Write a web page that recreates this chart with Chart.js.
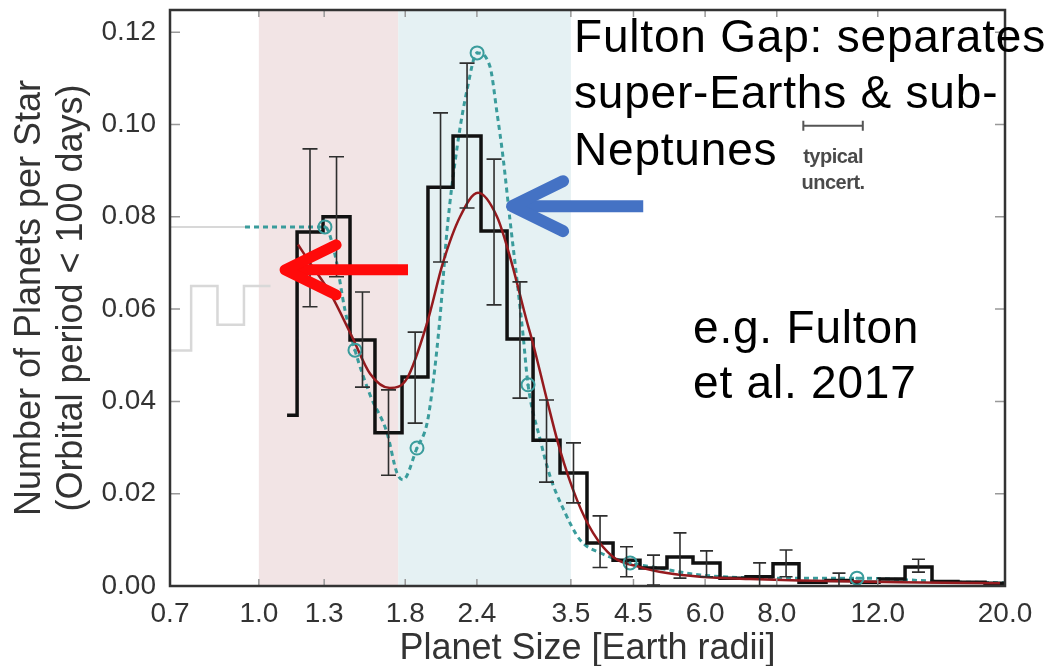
<!DOCTYPE html>
<html>
<head>
<meta charset="utf-8">
<script src="https://cdn.jsdelivr.net/npm/chart.js@4.4.1/dist/chart.umd.min.js"></script>
<style>
  html, body { margin: 0; padding: 0; background: #fff; }
  #wrap { width: 1051px; height: 666px; }
</style>
</head>
<body>
<div id="wrap"><canvas id="fulton" width="1051" height="666"></canvas></div>
<script>
// axis ticks
const xTicks = [0.7, 1.0, 1.3, 1.8, 2.4, 3.5, 4.5, 6.0, 8.0, 12.0, 20.0];
const yTicks = [0, 0.02, 0.04, 0.06, 0.08, 0.10, 0.12];

// shaded bands (planet radius)
const superEarthBand = [1.0, 1.75];
const subNeptuneBand = [1.75, 3.5];

// black histogram: bin edges and occurrence per bin
const binEdges = [1.12, 1.166, 1.294, 1.442, 1.594, 1.777, 1.972, 2.181, 2.44, 2.709,
  3.007, 3.351, 3.734, 4.146, 4.62, 5.148, 5.715, 6.37, 7.071, 7.88,
  8.747, 9.749, 10.82, 12.06, 13.39, 14.92, 16.56, 18.46, 20];
const binValues = [0.037, 0.0767, 0.080, 0.0533, 0.0332, 0.0453, 0.0864, 0.0975, 0.0769, 0.0535,
  0.0316, 0.0245, 0.0093, 0.0056, 0.0039, 0.0063, 0.005, 0.0017, 0.002, 0.0048,
  0.0008, 0.0012, 0.0008, 0.0015, 0.0041, 0.001, 0.0008, 0.0006];

// grey (incomplete) part of the histogram
const grayEdges = [0.7, 0.762, 0.847, 0.942, 1.048];
const grayValues = [0.051, 0.065, 0.0566, 0.065];
const grayModelX = [0.7, 0.946];
const grayModelY = [0.0778, 0.0778];

// error bars
const errX  = [1.228, 1.366, 1.516, 1.683, 1.873, 2.074, 2.307, 2.571, 2.853, 3.174, 3.537, 3.935, 4.376, 4.877, 5.424, 6.034, 7.467, 8.304, 10.27, 14.13];
const errLo = [0.0605, 0.067, 0.0431, 0.024, 0.0353, 0.0702, 0.0819, 0.0609, 0.0407, 0.0225, 0.018, 0.004, 0.002, 0.0002, 0.0017, 0.002, 0.0, 0.002, 0.0, 0.003];
const errHi = [0.0947, 0.093, 0.0637, 0.0425, 0.055, 0.1025, 0.1133, 0.0925, 0.0659, 0.0403, 0.031, 0.0152, 0.0085, 0.0067, 0.0115, 0.0076, 0.005, 0.0078, 0.0028, 0.0058];

// red smooth curve
const redX = [1.17, 1.228, 1.331, 1.454, 1.563, 1.693, 1.813, 1.965, 2.094, 2.243, 2.411, 2.602, 2.741, 2.935, 3.007, 3.18, 3.35, 3.588, 3.826, 4.146, 4.62, 5.148, 5.878, 7.18, 8.78, 13.1, 19.6];
const redY = [0.074, 0.070, 0.0635, 0.054, 0.046, 0.0429, 0.045, 0.057, 0.070, 0.080, 0.0852, 0.080, 0.0713, 0.0572, 0.0525, 0.0403, 0.0295, 0.0186, 0.0115, 0.0063, 0.0041, 0.0028, 0.002, 0.0015, 0.0012, 0.0008, 0.0006];

// teal dashed model curve and its circles
const tealX = [0.946, 1.133, 1.304, 1.358, 1.413, 1.471, 1.563, 1.673, 1.741, 1.784, 1.887, 1.965, 2.013, 2.070, 2.129, 2.217, 2.307, 2.402, 2.530, 2.602, 2.665, 2.741, 2.819, 2.888, 2.947, 3.093, 3.219, 3.392, 3.631, 3.935, 4.44, 4.869, 5.878, 8.10, 11.04, 16.04, 20];
const tealY = [0.0778, 0.0778, 0.0778, 0.0717, 0.0598, 0.0511, 0.0414, 0.0332, 0.0245, 0.023, 0.0299, 0.0353, 0.044, 0.0583, 0.0771, 0.0951, 0.1075, 0.1155, 0.1125, 0.1025, 0.093, 0.0793, 0.0663, 0.0545, 0.0436, 0.0318, 0.0238, 0.0168, 0.010, 0.0072, 0.005, 0.0041, 0.0024, 0.0017, 0.0017, 0.0009, 0.0007];
const circleX = [1.304, 1.471, 1.887, 2.402, 2.947, 4.44, 11.04];
const circleY = [0.0778, 0.0511, 0.0299, 0.1155, 0.0436, 0.005, 0.0017];

// "typical uncert." bar
const uncertX = [8.9, 11.3];
const uncertY = 0.0997;

// arrows [x, y] in data units
const redArrow = [[1.82, 0.0685], [1.111, 0.0685]];
const blueArrow = [[4.68, 0.0823], [2.764, 0.0823]];

const TEAL = '#3a9c9c';
const RED = '#951a1e';
const FONT = '"Helvetica Neue", Helvetica, "Liberation Sans", Arial, sans-serif';

function steps(edges, vals) {
  const pts = vals.map((v, i) => ({x: edges[i], y: v}));
  pts.push({x: edges[edges.length - 1], y: vals[vals.length - 1]});
  return pts;
}
const zip = (xs, ys) => xs.map((x, i) => ({x: x, y: ys[i]}));

function arrow(ctx, x, y, pts, color, lw) {
  const x0 = x.getPixelForValue(pts[0][0]), y0 = y.getPixelForValue(pts[0][1]);
  const x1 = x.getPixelForValue(pts[1][0]), y1 = y.getPixelForValue(pts[1][1]);
  ctx.save();
  ctx.strokeStyle = color;
  ctx.lineWidth = lw;
  ctx.lineCap = 'butt';
  ctx.beginPath();
  ctx.moveTo(x0, y0);
  ctx.lineTo(x1 + 4, y1);
  ctx.stroke();
  ctx.lineCap = 'round';
  ctx.lineJoin = 'round';
  ctx.beginPath();
  ctx.moveTo(x1 + 51, y1 - 25);
  ctx.lineTo(x1, y1);
  ctx.lineTo(x1 + 51, y1 + 25);
  ctx.stroke();
  ctx.restore();
}

const decor = {
  id: 'decor',
  beforeDatasetsDraw(chart) {
    const {ctx, chartArea: a, scales: {x}} = chart;
    ctx.save();
    let l = x.getPixelForValue(superEarthBand[0]), r = x.getPixelForValue(superEarthBand[1]);
    ctx.fillStyle = '#f2e4e5';
    ctx.fillRect(l, a.top, r - l, a.bottom - a.top);
    l = x.getPixelForValue(subNeptuneBand[0]); r = x.getPixelForValue(subNeptuneBand[1]);
    ctx.fillStyle = '#e5f1f3';
    ctx.fillRect(l, a.top, r - l, a.bottom - a.top);
    ctx.restore();
  },
  afterDatasetsDraw(chart) {
    const {ctx, chartArea: a, scales: {x, y}} = chart;
    ctx.save();
    // error bars
    ctx.strokeStyle = '#2e2e2e';
    ctx.lineWidth = 1.6;
    errX.forEach((v, i) => {
      const px = x.getPixelForValue(v);
      const lo = y.getPixelForValue(errLo[i]), hi = y.getPixelForValue(errHi[i]);
      const cw = v > 4 ? 6.5 : 7.5;
      ctx.beginPath();
      ctx.moveTo(px, lo); ctx.lineTo(px, hi);
      ctx.moveTo(px - cw, lo); ctx.lineTo(px + cw, lo);
      ctx.moveTo(px - cw, hi); ctx.lineTo(px + cw, hi);
      ctx.stroke();
    });
    // typical uncertainty
    const u0 = x.getPixelForValue(uncertX[0]), u1 = x.getPixelForValue(uncertX[1]);
    const uy = y.getPixelForValue(uncertY);
    ctx.strokeStyle = '#555';
    ctx.lineWidth = 2;
    ctx.beginPath();
    ctx.moveTo(u0, uy); ctx.lineTo(u1, uy);
    ctx.moveTo(u0, uy - 5); ctx.lineTo(u0, uy + 5);
    ctx.moveTo(u1, uy - 5); ctx.lineTo(u1, uy + 5);
    ctx.stroke();
    ctx.fillStyle = '#4a4a4a';
    ctx.font = 'bold 20px ' + FONT;
    ctx.letterSpacing = '-0.5px';
    ctx.textAlign = 'center';
    ctx.textBaseline = 'alphabetic';
    ctx.fillText('typical', (u0 + u1) / 2, uy + 37);
    ctx.fillText('uncert.', (u0 + u1) / 2, uy + 63);
    ctx.letterSpacing = '0px';
    // inward tick marks
    ctx.strokeStyle = '#999';
    ctx.lineWidth = 1.5;
    ctx.beginPath();
    yTicks.forEach(v => {
      const py = y.getPixelForValue(v);
      ctx.moveTo(a.left, py); ctx.lineTo(a.left + 10, py);
      ctx.moveTo(a.right, py); ctx.lineTo(a.right - 10, py);
    });
    xTicks.forEach(v => {
      const px = x.getPixelForValue(v);
      ctx.moveTo(px, a.bottom); ctx.lineTo(px, a.bottom - 7);
      ctx.moveTo(px, a.top); ctx.lineTo(px, a.top + 7);
    });
    ctx.stroke();
    // frame
    ctx.strokeStyle = '#333';
    ctx.lineWidth = 2.5;
    ctx.strokeRect(a.left, a.top, a.right - a.left, a.bottom - a.top);
    ctx.restore();
  },
  afterDraw(chart) {
    const {ctx, scales: {x, y}} = chart;
    arrow(ctx, x, y, redArrow, '#ff0a0a', 11);
    arrow(ctx, x, y, blueArrow, '#4472c4', 12);
    ctx.save();
    ctx.fillStyle = '#000';
    ctx.font = '46px ' + FONT;
    ctx.letterSpacing = '0.8px';
    ctx.textAlign = 'left';
    ctx.textBaseline = 'alphabetic';
    ctx.fillText('Fulton Gap: separates', 574, 52);
    ctx.fillText('super-Earths & sub-', 574, 108);
    ctx.fillText('Neptunes', 574, 165);
    ctx.fillText('e.g. Fulton', 693, 343);
    ctx.fillText('et al. 2017', 693, 398);
    ctx.restore();
  }
};

new Chart(document.getElementById('fulton'), {
  type: 'line',
  data: {
    datasets: [
      { data: zip(circleX, circleY), showLine: false, pointRadius: 6.5, pointBorderWidth: 2,
        pointBorderColor: TEAL, pointBackgroundColor: 'rgba(0,0,0,0)', order: 1 },
      { data: zip(circleX, circleY), showLine: false, pointRadius: 1.6, pointBorderWidth: 0,
        pointBackgroundColor: TEAL, order: 1 },
      { data: zip(redX, redY), borderColor: RED, borderWidth: 2.5, pointRadius: 0,
        cubicInterpolationMode: 'monotone', order: 2 },
      { data: steps(binEdges, binValues), stepped: true, borderColor: '#111', borderWidth: 3.5,
        pointRadius: 0, order: 3 },
      { data: zip(tealX, tealY), borderColor: TEAL, borderDash: [5, 4], borderWidth: 3,
        pointRadius: 0, cubicInterpolationMode: 'monotone', order: 4 },
      { data: steps(grayEdges, grayValues), stepped: true, borderColor: '#d8d8d8', borderWidth: 2.5,
        pointRadius: 0, order: 5 },
      { data: zip(grayModelX, grayModelY), borderColor: '#d8d8d8', borderWidth: 2,
        pointRadius: 0, order: 5 }
    ]
  },
  options: {
    responsive: false,
    animation: false,
    devicePixelRatio: 1,
    events: [],
    layout: { padding: { top: 10, right: 46, left: 0, bottom: 0 } },
    plugins: { legend: { display: false }, tooltip: { enabled: false } },
    scales: {
      x: {
        type: 'logarithmic',
        min: 0.7,
        max: 20,
        afterBuildTicks: s => { s.ticks = xTicks.map(v => ({value: v})); },
        afterFit: s => { s.height = 80; s.paddingLeft = 0; s.paddingRight = 0; },
        grid: { display: false, drawTicks: false },
        border: { display: false },
        ticks: {
          autoSkip: false, maxRotation: 0, padding: 11,
          color: '#333', font: { family: FONT, size: 28 },
          callback: v => Number(v).toFixed(1)
        },
        title: {
          display: true, text: 'Planet Size [Earth radii]', color: '#333',
          font: { family: FONT, size: 36, lineHeight: 0.95 }, padding: 0
        }
      },
      y: {
        min: 0,
        max: 0.1248,
        afterBuildTicks: s => { s.ticks = yTicks.map(v => ({value: v})); },
        afterFit: s => { s.width = 170; s.paddingTop = 0; s.paddingBottom = 0; },
        grid: { display: false, drawTicks: false },
        border: { display: false },
        ticks: {
          padding: 14, color: '#333', font: { family: FONT, size: 28 },
          callback: v => Number(v).toFixed(2)
        },
        title: {
          display: true,
          text: ['Number of Planets per Star', '(Orbital period < 100 days)'],
          color: '#333',
          font: { family: FONT, size: 36, lineHeight: 1.17 },
          padding: { top: 9, bottom: 0 }
        }
      }
    }
  },
  plugins: [decor]
});
</script>
</body>
</html>
